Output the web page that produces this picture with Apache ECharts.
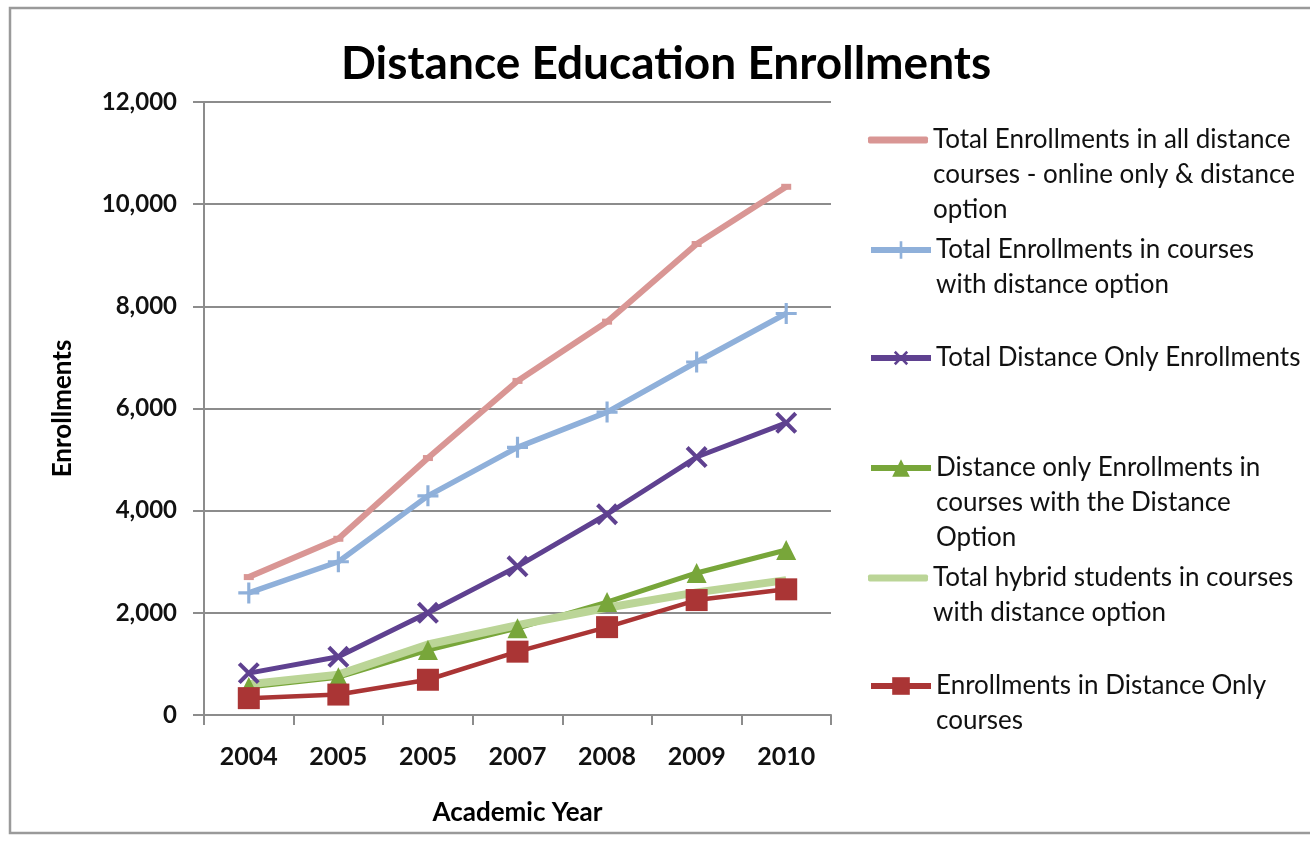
<!DOCTYPE html>
<html>
<head>
<meta charset="utf-8">
<title>Distance Education Enrollments</title>
<script src="https://cdn.jsdelivr.net/npm/echarts@6.0.0/dist/echarts.min.js"></script>
<style>
  html, body { margin: 0; padding: 0; background: #fff; }
  #chart { width: 1310px; height: 848px; }
</style>
</head>
<body>
<div id="chart"></div>
<script>
// academic years as printed on the original chart (2005 appears twice)
var years = ['2004', '2005', '2005', '2007', '2008', '2009', '2010'];

var totalAll      = [2700, 3450, 5030, 6540, 7700, 9220, 10340];
var totalOption   = [2390, 3000, 4290, 5240, 5930, 6910, 7860];
var distanceOnly  = [820, 1140, 2000, 2910, 3930, 5050, 5720];
var distInOption  = [550, 740, 1270, 1700, 2210, 2780, 3230];
var hybridOption  = [600, 790, 1380, 1760, 2100, 2400, 2640];
var distOnlyCourse = [330, 400, 690, 1240, 1720, 2250, 2460];

var seriesNames = [
  'Total Enrollments in all distance courses - online only & distance option',
  'Total Enrollments in courses with distance option',
  'Total Distance Only Enrollments',
  'Distance only Enrollments in courses with the Distance Option',
  'Total hybrid students in courses with distance option',
  'Enrollments in Distance Only courses'
];
// legend text, wrapped the way the original legend wraps it
var legendLabels = [
  'Total Enrollments in all distance\ncourses - online only & distance\noption',
  'Total Enrollments in courses\nwith distance option',
  'Total Distance Only Enrollments',
  'Distance only Enrollments in\ncourses with the Distance\nOption',
  'Total hybrid students in courses\nwith distance option',
  'Enrollments in Distance Only\ncourses'
];
var yTicks = [0, 2000, 4000, 6000, 8000, 10000, 12000];

var FONT = 'Lato';
var PLUS = 'path://M8.5,0 H11.5 V8.5 H20 V11.5 H11.5 V20 H8.5 V11.5 H0 V8.5 H8.5 Z';
var LINE_H = 35;
var legendCenters = [140, 250, 358, 468, 578, 686];

var chart = echarts.init(document.getElementById('chart'));

// one legend per series so the icon sits beside the first text line
function makeLegend(i, extra) {
  var lines = legendLabels[i].split('\n').length;
  var pad = new Array(lines).join('\n'); // n-1 blank lines on top keep line 1 centred on the icon
  var lg = {
    data: [seriesNames[i]],
    left: 868,
    top: legendCenters[i] - (2 * lines - 1) * LINE_H / 2,
    padding: 0,
    itemWidth: 60,
    itemHeight: 22,
    selectedMode: false,
    lineStyle: { width: 6 },
    formatter: function () { return pad + legendLabels[i]; },
    textStyle: {
      fontFamily: FONT,
      fontSize: 26,
      color: '#111',
      lineHeight: LINE_H
    }
  };
  return Object.assign(lg, extra || {});
}

var option = {
  animation: false,
  backgroundColor: '#fff',
  title: {
    text: 'Distance Education Enrollments',
    left: 336,
    top: 36,
    textStyle: { fontFamily: FONT, fontSize: 46, fontWeight: 'bold', color: '#000' }
  },
  graphic: [{
    type: 'rect',
    shape: { x: 10, y: 8, width: 1330, height: 825 },
    style: { fill: 'none', stroke: '#9a9a9a', lineWidth: 2.5 },
    silent: true
  }],
  legend: [
    makeLegend(0, { icon: 'roundRect', itemHeight: 7 }),
    makeLegend(1),
    makeLegend(2),
    makeLegend(3),
    makeLegend(4, { icon: 'roundRect', itemHeight: 7 }),
    makeLegend(5)
  ],
  grid: { left: 204, right: 479, top: 102, bottom: 133 },
  xAxis: {
    type: 'category',
    data: years,
    boundaryGap: true,
    name: 'Academic Year',
    nameLocation: 'middle',
    nameGap: 85,
    nameTextStyle: { fontFamily: FONT, fontSize: 26, fontWeight: 'bold', color: '#000' },
    axisLine: { lineStyle: { color: '#8c8c8c', width: 2 } },
    axisTick: { show: true, length: 10, lineStyle: { color: '#8c8c8c', width: 2 } },
    axisLabel: { fontFamily: FONT, fontSize: 25, fontWeight: 'bold', color: '#111', margin: 29, interval: 0 }
  },
  yAxis: {
    type: 'value',
    min: 0,
    max: 12000,
    interval: 2000,
    name: 'Enrollments',
    nameLocation: 'middle',
    nameGap: 128,
    nameRotate: 90,
    nameTextStyle: { fontFamily: FONT, fontSize: 26, fontWeight: 'bold', color: '#000' },
    axisLine: { show: true, lineStyle: { color: '#8c8c8c', width: 2 } },
    axisTick: { show: true, length: 11, lineStyle: { color: '#8c8c8c', width: 2 } },
    splitLine: { lineStyle: { color: '#8c8c8c', width: 2 } },
    axisLabel: {
      fontFamily: FONT, fontSize: 24, fontWeight: 'bold', color: '#111', margin: 27,
      formatter: function (v) { return yTicks.indexOf(v) >= 0 ? v.toLocaleString('en-US') : ''; }
    }
  },
  series: [
    {
      name: seriesNames[0], type: 'line', data: totalAll,
      color: '#D99694',
      lineStyle: { width: 6 },
      symbol: 'rect', symbolSize: [10, 6]
    },
    {
      name: seriesNames[1], type: 'line', data: totalOption,
      color: '#8FB0DA',
      lineStyle: { width: 5.5 },
      symbol: PLUS, symbolSize: 21
    },
    {
      name: seriesNames[2], type: 'line', data: distanceOnly,
      color: '#5F4190',
      lineStyle: { width: 5 },
      symbol: PLUS, symbolSize: 27, symbolRotate: 45
    },
    {
      name: seriesNames[3], type: 'line', data: distInOption,
      color: '#78A63A',
      lineStyle: { width: 5 },
      symbol: 'triangle', symbolSize: 20
    },
    {
      name: seriesNames[4], type: 'line', data: hybridOption,
      color: '#BBD597',
      lineStyle: { width: 8 },
      symbol: 'none'
    },
    {
      name: seriesNames[5], type: 'line', data: distOnlyCourse,
      color: '#AA3535',
      lineStyle: { width: 4.5 },
      symbol: 'rect', symbolSize: 22
    }
  ]
};

chart.setOption(option);
</script>
</body>
</html>
